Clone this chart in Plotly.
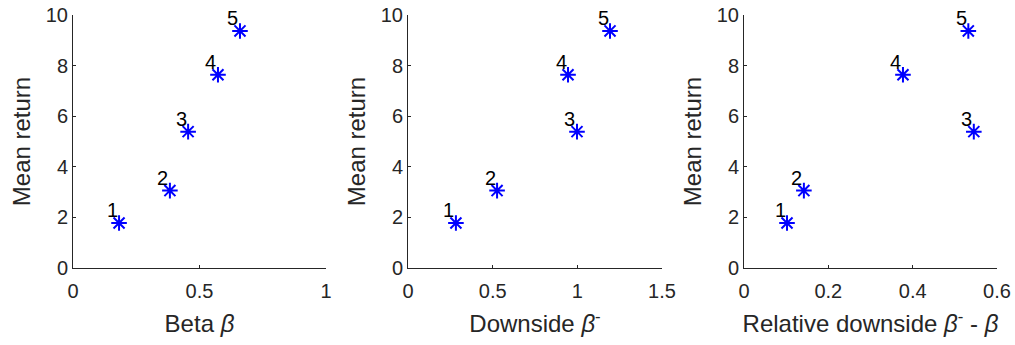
import plotly.graph_objects as go
from plotly.subplots import make_subplots

portfolios = ["1", "2", "3", "4", "5"]
mean_return = [1.78, 3.06, 5.39, 7.64, 9.37]
beta = [0.182, 0.383, 0.455, 0.573, 0.660]
downside_beta = [0.283, 0.526, 0.998, 0.945, 1.193]
relative_downside = [0.102, 0.142, 0.545, 0.377, 0.532]

x_titles = ["Beta <i>β</i>", "Downside <i>β</i><sup>-</sup>",
            "Relative downside <i>β</i><sup>-</sup> - <i>β</i>"]
x_ranges = [[0, 1], [0, 1.5], [0, 0.6]]
x_ticks = [[0, 0.5, 1], [0, 0.5, 1, 1.5], [0, 0.2, 0.4, 0.6]]
x_ticktext = [["0", "0.5", "1"], ["0", "0.5", "1", "1.5"], ["0", "0.2", "0.4", "0.6"]]
y_ticks = [0, 2, 4, 6, 8, 10]

fig = make_subplots(rows=1, cols=3)
xs = [beta, downside_beta, relative_downside]
domains = [[73 / 1015, 326 / 1015], [408 / 1015, 662 / 1015], [744 / 1015, 997 / 1015]]
FONT = "Liberation Sans, Arial, sans-serif"
AX = "#262626"

for i, x in enumerate(xs):
    fig.add_trace(go.Scatter(
        x=x, y=mean_return, mode="markers",
        marker=dict(symbol="asterisk-open", size=13, color="blue",
                    line=dict(color="blue", width=2)),
        showlegend=False, cliponaxis=False), row=1, col=i + 1)
    for xv, yv, lab in zip(x, mean_return, portfolios):
        fig.add_annotation(x=xv, y=yv, text=lab, showarrow=False,
                           xanchor="center", yanchor="middle", xshift=-7, yshift=13,
                           font=dict(size=20, color="black", family=FONT),
                           row=1, col=i + 1)
    fig.update_xaxes(row=1, col=i + 1, range=x_ranges[i], tickvals=x_ticks[i],
                     ticktext=x_ticktext[i], domain=domains[i], automargin=False,
                     showgrid=False, zeroline=False, showline=True, linecolor=AX,
                     linewidth=1, ticks="inside", ticklen=3, tickcolor=AX,
                     ticklabelstandoff=5,
                     tickfont=dict(size=20, color=AX, family=FONT),
                     title=dict(text=x_titles[i], font=dict(size=24, color=AX, family=FONT),
                                standoff=14))
    fig.update_yaxes(row=1, col=i + 1, range=[0, 10], tickvals=y_ticks,
                     domain=[(345 - 268) / 345, (345 - 15) / 345], automargin=False,
                     showgrid=False, zeroline=False, showline=True, linecolor=AX,
                     linewidth=1, ticks="inside", ticklen=3, tickcolor=AX,
                     tickfont=dict(size=20, color=AX, family=FONT),
                     title=dict(text="Mean return", font=dict(size=24, color=AX, family=FONT),
                                standoff=8))

fig.update_layout(width=1015, height=345, margin=dict(l=0, r=0, t=0, b=0, autoexpand=False),
                  plot_bgcolor="white", paper_bgcolor="white",
                  font=dict(family=FONT))
fig.write_html("out.html", config={"displayModeBar": False},
               post_script="document.body.style.margin='0';")
